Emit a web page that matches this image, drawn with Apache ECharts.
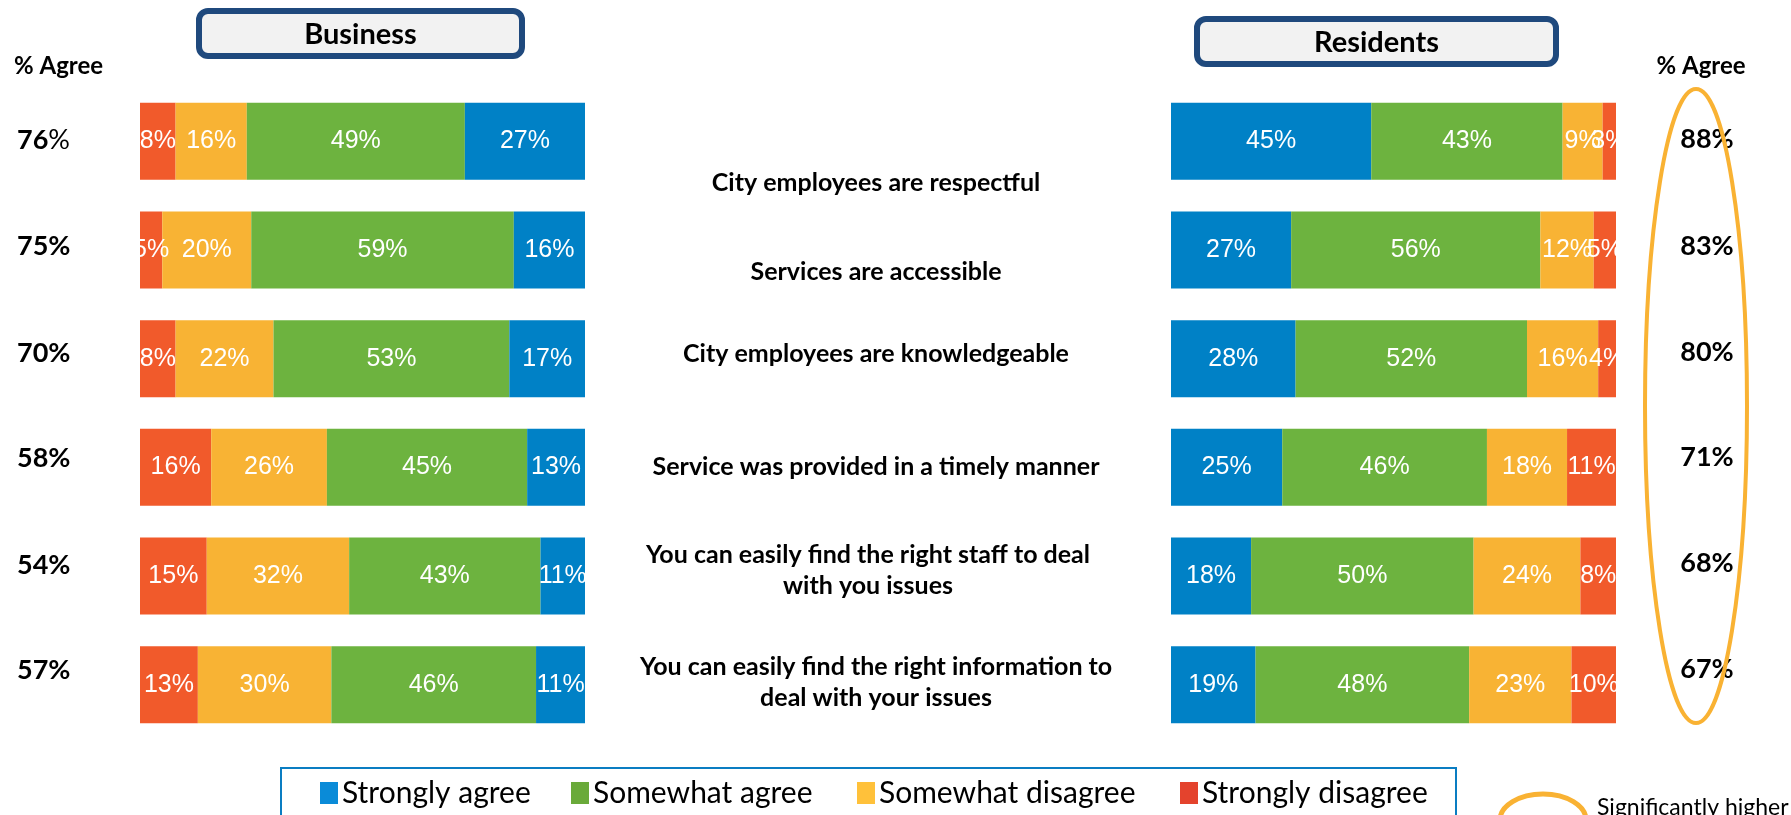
<!DOCTYPE html>
<html>
<head>
<meta charset="utf-8">
<script src="https://cdn.jsdelivr.net/npm/echarts@6/dist/echarts.min.js"></script>
<style>
html,body{margin:0;padding:0;background:#fff;}
#chart{width:1791px;height:815px;}
</style>
</head>
<body>
<div id="chart"></div>
<script>
// ---- data ----
const categories = [
  'City employees are respectful',
  'Services are accessible',
  'City employees are knowledgeable',
  'Service was provided in a timely manner',
  'You can easily find the right staff to deal\nwith you issues',
  'You can easily find the right information to\ndeal with your issues'
];
const seriesNames = ['Strongly agree', 'Somewhat agree', 'Somewhat disagree', 'Strongly disagree'];

const bizStronglyAgree    = [27, 16, 17, 13, 11, 11];
const bizSomewhatAgree    = [49, 59, 53, 45, 43, 46];
const bizSomewhatDisagree = [16, 20, 22, 26, 32, 30];
const bizStronglyDisagree = [8, 5, 8, 16, 15, 13];
const bizAgree            = [76, 75, 70, 58, 54, 57];

const resStronglyAgree    = [45, 27, 28, 25, 18, 19];
const resSomewhatAgree    = [43, 56, 52, 46, 50, 48];
const resSomewhatDisagree = [9, 12, 16, 18, 24, 23];
const resStronglyDisagree = [3, 5, 4, 11, 8, 10];
const resAgree            = [88, 83, 80, 71, 68, 67];

// ---- styles / layout ----
const colors = {
  'Strongly agree': '#0081C6',
  'Somewhat agree': '#6DB33F',
  'Somewhat disagree': '#F8B334',
  'Strongly disagree': '#F15A2B'
};
const legendColors = {
  'Strongly agree': '#0A8BD8',
  'Somewhat agree': '#6AAA3A',
  'Somewhat disagree': '#FFC13A',
  'Strongly disagree': '#E4432D'
};
const FONT = 'Lato, "Open Sans", sans-serif';
const gridTop = 87, gridHeight = 652;
const leftPctY  = [140, 246, 353, 458, 565, 670];
const rightPctY = [139, 246, 352, 457, 563, 669];
const centerY   = [183, 272, 354, 467, 570, 682];
const centerX   = [876, 876, 876, 876, 868, 876];

const chart = echarts.init(document.getElementById('chart'));

function barSeries(name, data, idx) {
  return {
    type: 'bar', name: name, stack: 'g' + idx,
    xAxisIndex: idx, yAxisIndex: idx,
    data: data, barWidth: 77,
    itemStyle: { color: colors[name] },
    label: {
      show: true, position: 'inside', color: '#fff',
      fontFamily: '"Liberation Sans", Arial, sans-serif', fontSize: 25,
      formatter: '{c}%'
    }
  };
}

const graphics = [];
function titleBox(x, y, w, h, text) {
  graphics.push({
    type: 'rect', shape: { x: x, y: y, width: w, height: h, r: 9 },
    style: { fill: '#F2F2F2', stroke: '#1F497D', lineWidth: 6 }
  });
  graphics.push({
    type: 'text', x: x + w / 2, y: y + h / 2 + 1,
    style: { text: text, fill: '#000', font: 'bold 29px ' + FONT, align: 'center', verticalAlign: 'middle' }
  });
}
titleBox(199, 11, 323, 45, 'Business');
titleBox(1197, 19, 359, 45, 'Residents');

graphics.push({ type: 'text', x: 14, y: 66,
  style: { text: '% Agree', fill: '#000', font: 'bold 24px ' + FONT, verticalAlign: 'middle' } });
graphics.push({ type: 'text', x: 1701, y: 66,
  style: { text: '% Agree', fill: '#000', font: 'bold 24px ' + FONT, align: 'center', verticalAlign: 'middle' } });

bizAgree.forEach(function (v, i) {
  if (i === 0) {
    graphics.push({ type: 'text', x: 17, y: leftPctY[i],
      style: { text: '{b|' + v + '}{n|%}', verticalAlign: 'middle',
        rich: { b: { font: 'bold 27px ' + FONT, fill: '#000' }, n: { font: '27px ' + FONT, fill: '#000' } } } });
  } else {
    graphics.push({ type: 'text', x: 17, y: leftPctY[i],
      style: { text: v + '%', fill: '#000', font: 'bold 27px ' + FONT, verticalAlign: 'middle' } });
  }
});
resAgree.forEach(function (v, i) {
  graphics.push({ type: 'text', x: 1707, y: rightPctY[i],
    style: { text: v + '%', fill: '#000', font: 'bold 27px ' + FONT, align: 'center', verticalAlign: 'middle' } });
});
categories.forEach(function (c, i) {
  graphics.push({ type: 'text', x: centerX[i], y: centerY[i],
    style: { text: c, fill: '#000', font: 'bold 25px ' + FONT, align: 'center', verticalAlign: 'middle', lineHeight: 31 } });
});

graphics.push({ type: 'ellipse', shape: { cx: 1696, cy: 406, rx: 51, ry: 317 },
  style: { fill: 'none', stroke: '#F9B233', lineWidth: 4 } });
graphics.push({ type: 'rect', shape: { x: 281, y: 768, width: 1175, height: 60 },
  style: { fill: 'none', stroke: '#0A7DC2', lineWidth: 2 } });
graphics.push({ type: 'ellipse', shape: { cx: 1543, cy: 820, rx: 43, ry: 26 },
  style: { fill: 'none', stroke: '#F9B233', lineWidth: 5 } });
graphics.push({ type: 'text', x: 1597, y: 808,
  style: { text: 'Significantly higher', fill: '#000', font: '23px ' + FONT, verticalAlign: 'middle' } });

const legendLeft = [320, 571, 857, 1180];
const legends = seriesNames.map(function (n, i) {
  return {
    left: legendLeft[i], top: 778, padding: 0, itemWidth: 18, itemHeight: 22, itemGap: 0,
    icon: 'rect', selectedMode: false,
    textStyle: { fontFamily: FONT, fontSize: 30, color: '#000', padding: [0, 0, 0, -1] },
    data: [{ name: n, itemStyle: { color: legendColors[n] } }]
  };
});

chart.setOption({
  backgroundColor: '#fff',
  animation: false,
  grid: [
    { left: 140, width: 445, top: gridTop, height: gridHeight },
    { left: 1171, width: 445, top: gridTop, height: gridHeight }
  ],
  xAxis: [
    { type: 'value', gridIndex: 0, min: 0, max: 100, show: false },
    { type: 'value', gridIndex: 1, min: 0, max: 100, show: false }
  ],
  yAxis: [
    { type: 'category', gridIndex: 0, data: categories, inverse: true, show: false },
    { type: 'category', gridIndex: 1, data: categories, inverse: true, show: false }
  ],
  legend: legends,
  graphic: graphics,
  series: [
    barSeries('Strongly disagree', bizStronglyDisagree, 0),
    barSeries('Somewhat disagree', bizSomewhatDisagree, 0),
    barSeries('Somewhat agree', bizSomewhatAgree, 0),
    barSeries('Strongly agree', bizStronglyAgree, 0),
    barSeries('Strongly agree', resStronglyAgree, 1),
    barSeries('Somewhat agree', resSomewhatAgree, 1),
    barSeries('Somewhat disagree', resSomewhatDisagree, 1),
    barSeries('Strongly disagree', resStronglyDisagree, 1)
  ]
});
</script>
</body>
</html>
